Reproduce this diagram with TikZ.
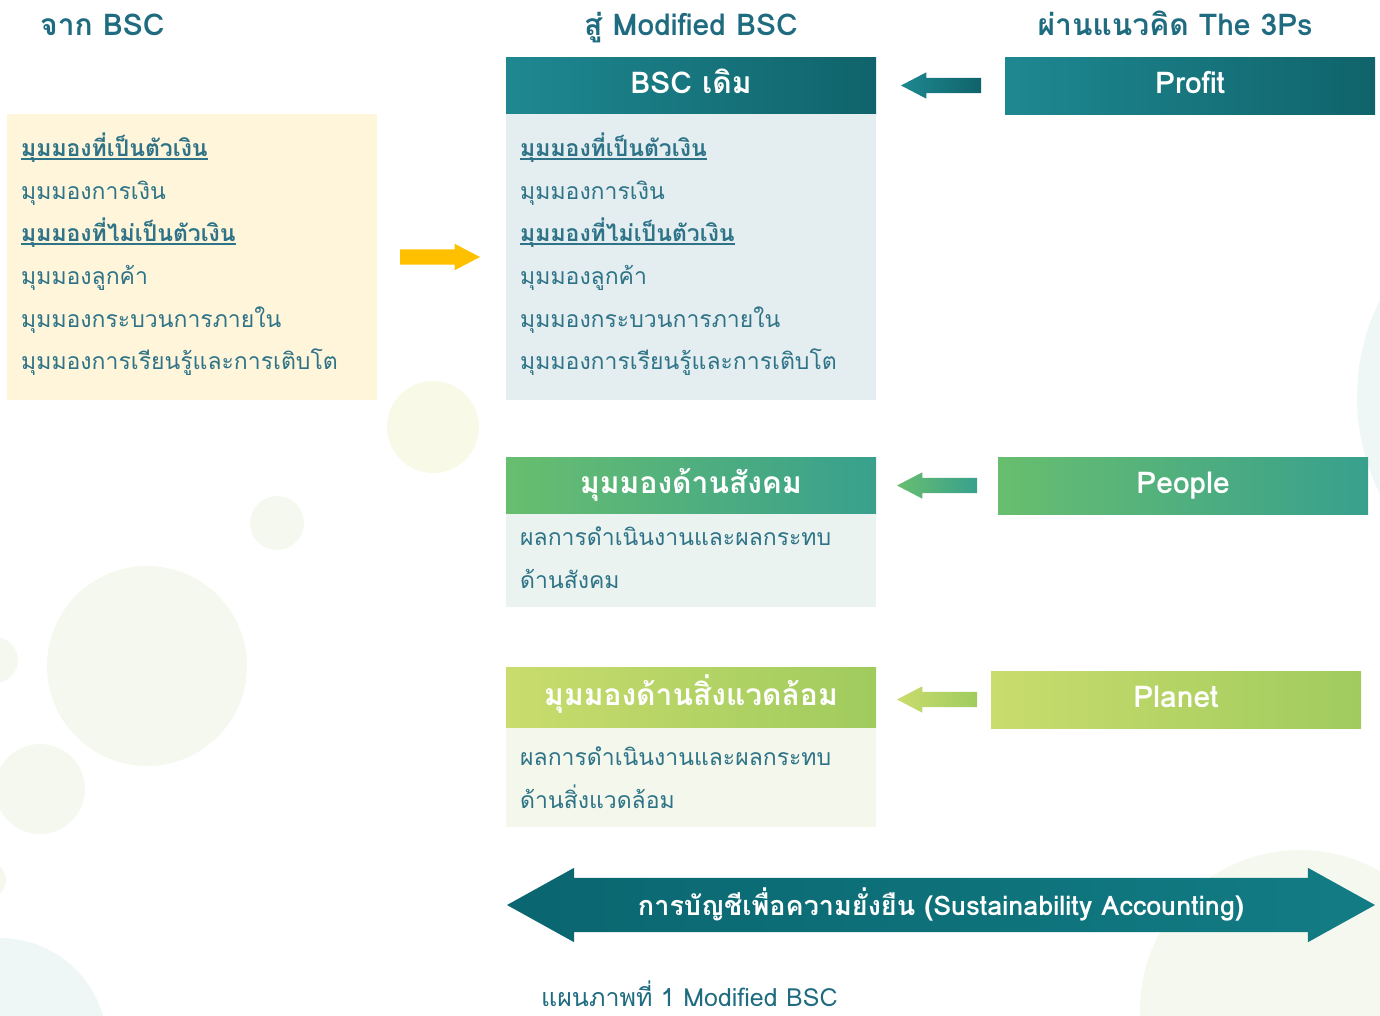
\documentclass[tikz,border=0pt]{standalone}
\usepackage{fontspec}
\setmainfont[Script=Thai]{Loma}
\usetikzlibrary{positioning, shapes.arrows, calc}

\definecolor{titleblue}{HTML}{1F6B80}
\definecolor{bodyblue}{HTML}{2E7387}
\definecolor{fromfill}{HTML}{FFF5DB}
\definecolor{bscfill}{HTML}{E4EEF0}
\definecolor{socfill}{HTML}{EAF3EF}
\definecolor{envfill}{HTML}{F3F7EC}
\definecolor{tealL}{HTML}{1E8891}
\definecolor{tealR}{HTML}{10636B}
\definecolor{greenL}{HTML}{68BE6F}
\definecolor{greenR}{HTML}{38A08D}
\definecolor{limeL}{HTML}{C9DC6D}
\definecolor{limeR}{HTML}{A0CB5E}
\definecolor{accL}{HTML}{0A6670}
\definecolor{accR}{HTML}{127C84}
\definecolor{gold}{HTML}{FFC000}
\definecolor{bubble}{HTML}{F5F8EE}
\definecolor{bubbleY}{HTML}{F8F9E7}
\definecolor{bubbleT}{HTML}{EEF6F6}

\newcommand\bodyfont{\fontsize{23}{28}\selectfont}
\newcommand\headfont{\fontsize{30}{34}\selectfont\bfseries}
\newcommand\ulthai[1]{\setbox0\hbox{#1}\rlap{\rule[-3pt]{\wd0}{1.6pt}}\box0}

\tikzset{
    headbox/.style={minimum width=370pt, minimum height=57pt, inner sep=0pt, outer sep=0pt,
        text=white, font=\headfont, text height=21pt, text depth=6pt},
    bodybox/.style={minimum width=370pt, inner sep=0pt, outer sep=0pt},
    bodytxt/.style={inner sep=0pt, anchor=base west, text=bodyblue, font=\bodyfont},
    title/.style={inner sep=0pt, anchor=base, text=titleblue, font=\headfont},
    blockarrow/.style={single arrow, shape border rotate=180, minimum height=80pt,
        inner xsep=0pt, inner ysep=7.5pt, text height=0pt, text depth=0pt,
        single arrow head extend=5.5pt, single arrow tip angle=55, outer sep=0pt},
}

\begin{document}
\begin{tikzpicture}[x=1pt, y=-1pt]
    \useasboundingbox (0,0) rectangle (1380,1015);

    % bubbles
    \fill[bubbleY] (433,427) circle (46);
    \fill[bubble] (277,523) circle (27);
    \fill[bubble] (147,666) circle (100);
    \fill[bubble] (-5,660) circle (23);
    \fill[bubble] (40,789) circle (45);
    \fill[bubble] (-12,880) circle (18);
    \fill[bubbleT] (0,1045) circle (107);
    \fill[bubbleT] (1573,397) circle (216);
    \fill[bubble] (1300,1010) circle (160);

    % titles
    \node[title, anchor=base west] (from_title) at (40,35) {จาก BSC};
    \node[title] (to_title) at (691,35) {สู่ Modified BSC};
    \node[title] (via_title) at (1175,35) {ผ่านแนวคิด The 3Ps};

    % from
    \node[bodybox, fill=fromfill, minimum height=286pt] (from_box) at (192,257) {};
    \foreach \t [count=\i] in {{\ulthai{\textbf{มุมมองที่เป็นตัวเงิน}}}, มุมมองการเงิน,
            {\ulthai{\textbf{มุมมองที่ไม่เป็นตัวเงิน}}}, มุมมองลูกค้า, มุมมองกระบวนการภายใน,
            มุมมองการเรียนรู้และการเติบโต}
        \node[bodytxt] (from\i) at ($(from_box.north west)+(14,42.6*\i)$) {\t};

    % to: modified bsc
    \node[headbox, left color=tealL, right color=tealR] (bsc_head) at (691,85.5) {BSC เดิม};
    \node[bodybox, fill=bscfill, minimum height=286pt, below=0pt of bsc_head] (bsc_body) {};
    \foreach \t [count=\i] in {{\ulthai{\textbf{มุมมองที่เป็นตัวเงิน}}}, มุมมองการเงิน,
            {\ulthai{\textbf{มุมมองที่ไม่เป็นตัวเงิน}}}, มุมมองลูกค้า, มุมมองกระบวนการภายใน,
            มุมมองการเรียนรู้และการเติบโต}
        \node[bodytxt] (bsc\i) at ($(bsc_body.north west)+(14,42.6*\i)$) {\t};

    \node[headbox, left color=greenL, right color=greenR] (soc_head) at (691,485.5) {มุมมองด้านสังคม};
    \node[bodybox, fill=socfill, minimum height=93pt, below=0pt of soc_head] (soc_body) {};
    \node[bodytxt] (soc1) at ($(soc_body.north west)+(14,31)$) {ผลการดำเนินงานและผลกระทบ};
    \node[bodytxt] (soc2) at ($(soc1.base west)+(0,43)$) {ด้านสังคม};

    \node[headbox, minimum height=61pt, left color=limeL, right color=limeR] (env_head) at (691,697.5) {มุมมองด้านสิ่งแวดล้อม};
    \node[bodybox, fill=envfill, minimum height=99pt, below=0pt of env_head] (env_body) {};
    \node[bodytxt] (env1) at ($(env_body.north west)+(14,37)$) {ผลการดำเนินงานและผลกระทบ};
    \node[bodytxt] (env2) at ($(env1.base west)+(0,43)$) {ด้านสิ่งแวดล้อม};

    % the 3Ps
    \node[headbox, left color=tealL, right color=tealR] (profit) at (1190,85.5) {Profit};
    \node[headbox, left color=greenL, right color=greenR] (people) at (1183,485.5) {People};
    \node[headbox, left color=limeL, right color=limeR] (planet) at (1176,699.5) {Planet};

    % arrows
    \node[blockarrow, shape border rotate=0, fill=gold, right=23pt of from_box.east, anchor=tail] (gold_arrow) {};
    \node[blockarrow, left color=tealL, right color=tealR, left=24pt of profit.west, anchor=tail] (profit_arrow) {};
    \node[blockarrow, left color=greenL, right color=greenR, left=21pt of people.west, anchor=tail] (people_arrow) {};
    \node[blockarrow, left color=limeL, right color=limeR, left=14pt of planet.west, anchor=tail] (planet_arrow) {};

    \node[double arrow, minimum height=868pt, double arrow head extend=10pt,
        double arrow tip angle=58, inner xsep=0pt, inner ysep=17pt, left color=accL, right color=accR,
        text=white, font=\headfont\fontsize{27}{30}\selectfont, text height=20pt, text depth=0pt]
        (acc_arrow) at (941,905) {การบัญชีเพื่อความยั่งยืน (Sustainability Accounting)};

    \node[title, anchor=base west, font=\bodyfont\fontsize{25}{28}\selectfont] (caption) at (541,1006) {แผนภาพที่ 1 Modified BSC};
\end{tikzpicture}
\end{document}
